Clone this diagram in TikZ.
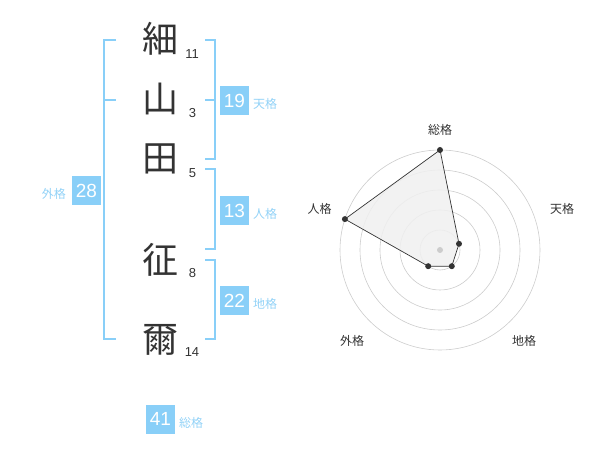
\documentclass[tikz,border=0pt]{standalone}
\usepackage{fontspec}
\setmainfont{Liberation Sans}
\newfontfamily\cjk{Noto Sans CJK JP}
\definecolor{sky}{HTML}{89CFF8}
\definecolor{skytext}{HTML}{92D2F7}
\definecolor{ink}{HTML}{333333}
\definecolor{ring}{HTML}{CCCCCC}
\definecolor{fillg}{HTML}{F0F0F0}
\begin{document}
\begin{tikzpicture}[x=1pt,y=-1pt,
  kanji/.style={font=\cjk\fontsize{36}{36}\selectfont, text=ink, inner sep=0pt, anchor=center},
  stroke/.style={font=\fontsize{13}{13}\selectfont, text=ink, inner sep=0pt, anchor=base},
  numbox/.style={fill=sky, text=white, font=\fontsize{19}{19}\selectfont, minimum width=29pt, minimum height=29pt, inner sep=0pt, anchor=center},
  kaku/.style={font=\cjk\fontsize{12}{12}\selectfont, text=skytext, inner sep=0pt, anchor=west},
  bracket/.style={draw=sky, line width=2pt},
  rlabel/.style={font=\cjk\fontsize{12}{12}\selectfont, text=ink, inner sep=0pt, anchor=center},
  dot/.style={fill=ink, circle, inner sep=0pt, minimum size=6pt}
]
\useasboundingbox (0,0) rectangle (600,470);
% characters
\node[kanji] (k1) at (160,39) {細};
\node[kanji] (k2) at (160,99) {山};
\node[kanji] (k3) at (160,159) {田};
\node[kanji] (k4) at (160,260) {征};
\node[kanji] (k5) at (160,340) {爾};
\node[stroke] (s1) at (192,58.5) {11};
\node[stroke] (s2) at (192.5,118) {3};
\node[stroke] (s3) at (192.5,177.5) {5};
\node[stroke] (s4) at (192.5,277.5) {8};
\node[stroke] (s5) at (192,357) {14};
% brackets
\draw[bracket] (116,40) -- (104,40) -- (104,339.5) -- (116,339.5);
\draw[bracket] (104,100) -- (116,100);
\draw[bracket] (205,40) -- (214.5,40) -- (214.5,159.5) -- (205,159.5);
\draw[bracket] (205,100) -- (214.5,100);
\draw[bracket] (205,169.5) -- (214.5,169.5) -- (214.5,249.5) -- (205,249.5);
\draw[bracket] (205,260) -- (214.5,260) -- (214.5,339.5) -- (205,339.5);
% boxes
\node[numbox] (b1) at (234.5,100.5) {19};
\node[kaku] (l1) at (253,104) {天格};
\node[numbox] (b2) at (234.5,210.5) {13};
\node[kaku] (l2) at (253,214) {人格};
\node[numbox] (b3) at (234.5,300.5) {22};
\node[kaku] (l3) at (253,304) {地格};
\node[numbox] (b4) at (86.5,190.5) {28};
\node[kaku, anchor=east] (l4) at (66,194) {外格};
\node[numbox] (b5) at (160.5,419) {41};
\node[kaku] (l5) at (179,423) {総格};
% radar
\coordinate (c) at (440,250);
\foreach \r in {20,40,60,80,100} \draw[ring, line width=0.6pt] (c) circle[radius=\r];
\coordinate (p1) at (440,150);
\coordinate (p2) at (459,243.8);
\coordinate (p3) at (451.8,266.2);
\coordinate (p4) at (428.2,266.2);
\coordinate (p5) at (344.9,219.1);
\draw[ink, fill=fillg, fill opacity=0.85, line width=0.7pt] (p1) -- (p2) -- (p3) -- (p4) -- (p5) -- cycle;
\node[circle, fill=ring, inner sep=0pt, minimum size=6pt] (cd) at (c) {};
\foreach \p in {p1,p2,p3,p4,p5} \node[dot] at (\p) {};
\node[rlabel] (r1) at (440,130) {総格};
\node[rlabel] (r2) at (562,208.5) {天格};
\node[rlabel] (r3) at (524,341) {地格};
\node[rlabel] (r4) at (352,341) {外格};
\node[rlabel] (r5) at (319.5,208.5) {人格};
\end{tikzpicture}
\end{document}
